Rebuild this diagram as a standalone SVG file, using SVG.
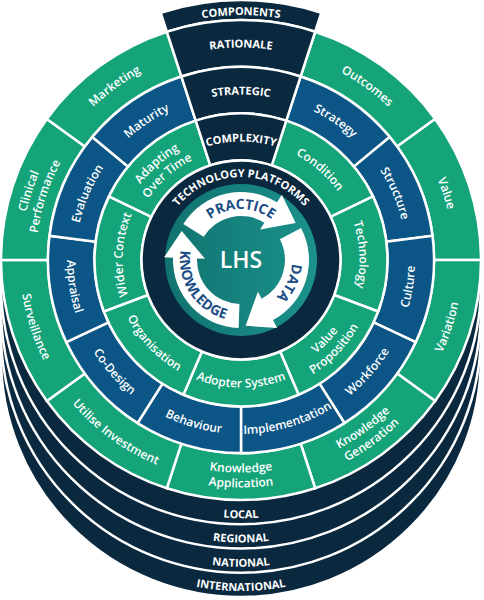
<svg xmlns="http://www.w3.org/2000/svg" width="484" height="600" viewBox="0 0 484 600">
<defs>
<linearGradient id="tealGrad" x1="0" y1="0" x2="1" y2="0">
<stop offset="0" stop-color="#117370"/>
<stop offset="1" stop-color="#1b928b"/>
</linearGradient>
<path id="segO" d="M166.836,31.746 A240,240 0 0 1 315.164,31.746 L300.640,76.446 A193,193 0 0 0 181.360,76.446 Z"/>
<path id="segB" d="M187.155,74.662 A193,193 0 0 1 294.845,74.662 L281.872,119.316 A146.5,146.5 0 0 0 200.128,119.316 Z"/>
<path id="segI" d="M183.422,125.289 A146.5,146.5 0 0 1 298.578,125.289 L280.106,168.507 A99.5,99.5 0 0 0 201.894,168.507 Z"/>
<path id="arrow" d="M183.333,223.965 A68,68 0 0 1 277.035,202.333 L281.804,194.700 L295.717,223.093 L260.077,229.470 L264.316,222.686 A44,44 0 0 0 203.686,236.684 Z"/>
<path id="p_t245" d="M-4,260 A245,245 0 0 1 486,260"/>
<path id="p_t212" d="M28.5,260 A212.5,212.5 0 0 1 453.5,260"/>
<path id="p_b221" d="M19.5,260 A221.5,221.5 0 0 0 462.5,260"/>
<path id="p_t220" d="M21,260 A220,220 0 0 1 461,260"/>
<path id="p_t205" d="M36,260 A205,205 0 0 1 446,260"/>
<path id="p_b212" d="M28.5,260 A212.5,212.5 0 0 0 453.5,260"/>
<path id="p_b227" d="M13.5,260 A227.5,227.5 0 0 0 468.5,260"/>
<path id="p_t165" d="M75.5,260 A165.5,165.5 0 0 1 406.5,260"/>
<path id="p_b174" d="M67,260 A174,174 0 0 0 415,260"/>
<path id="p_t118" d="M122.5,260 A118.5,118.5 0 0 1 359.5,260"/>
<path id="p_b127" d="M113.5,260 A127.5,127.5 0 0 0 368.5,260"/>
<path id="p_t126" d="M115,260 A126,126 0 0 1 367,260"/>
<path id="p_t111" d="M130,260 A111,111 0 0 1 352,260"/>
<path id="p_b120" d="M121,260 A120,120 0 0 0 361,260"/>
<path id="p_b135" d="M106,260 A135,135 0 0 0 376,260"/>
<path id="p_t83" d="M158,260 A83,83 0 0 1 324,260"/>
<path id="p_t51" d="M190,260 A51,51 0 0 1 292,260"/>
<path id="p_b61" d="M180,260 A61,61 0 0 0 302,260"/>
<path id="p_bL" d="M7,260 A234,234 0 0 0 475,260"/>
</defs>
<style>
.g{fill:#15a479;stroke:#fff;stroke-width:2.5}
.b{fill:#0c5687;stroke:#fff;stroke-width:2.5}
.n{fill:#0a283e;stroke:#fff;stroke-width:2.5}
.t{font-family:"Open Sans","Liberation Sans",sans-serif;font-size:12px;font-weight:600;fill:#fff;text-anchor:middle}
.c{font-family:"Open Sans","Liberation Sans",sans-serif;font-size:11px;font-weight:700;fill:#fff;text-anchor:middle}
.a{font-family:"Open Sans","Liberation Sans",sans-serif;font-size:14px;font-weight:700;fill:#1a4c85;text-anchor:middle}
.arr{fill:#fff}
</style>
<rect width="484" height="600" fill="#fff"/>

<g id="international"><circle class="n" cx="241" cy="357" r="240"/><text class="c" transform="translate(0,97)"><textPath href="#p_bL" startOffset="50%">INTERNATIONAL</textPath></text></g>
<g id="national"><circle class="n" cx="241" cy="332.75" r="240"/><text class="c" transform="translate(0,72.75)"><textPath href="#p_bL" startOffset="50%">NATIONAL</textPath></text></g>
<g id="regional"><circle class="n" cx="241" cy="308.5" r="240"/><text class="c" transform="translate(0,48.5)"><textPath href="#p_bL" startOffset="50%">REGIONAL</textPath></text></g>
<g id="local"><circle class="n" cx="241" cy="284.25" r="240"/><text class="c" transform="translate(0,24.25)"><textPath href="#p_bL" startOffset="50%">LOCAL</textPath></text></g>

<g id="outcomes"><use href="#segO" class="g" transform="rotate(36 241 260)"/><text class="t" transform="rotate(36 241 260)"><textPath href="#p_t212" startOffset="50%">Outcomes</textPath></text></g>
<g id="value"><use href="#segO" class="g" transform="rotate(72 241 260)"/><text class="t" transform="rotate(72 241 260)"><textPath href="#p_t212" startOffset="50%">Value</textPath></text></g>
<g id="variation"><use href="#segO" class="g" transform="rotate(108 241 260)"/><text class="t" transform="rotate(-72 241 260)"><textPath href="#p_b221" startOffset="50%">Variation</textPath></text></g>
<g id="knowledge-generation"><use href="#segO" class="g" transform="rotate(144 241 260)"/><text class="t" transform="rotate(-36 241 260)"><textPath href="#p_b212" startOffset="50%">Knowledge</textPath></text><text class="t" transform="rotate(-36 241 260)"><textPath href="#p_b227" startOffset="50%">Generation</textPath></text></g>
<g id="knowledge-application"><use href="#segO" class="g" transform="rotate(180 241 260)"/><text class="t"><textPath href="#p_b212" startOffset="50%">Knowledge</textPath></text><text class="t"><textPath href="#p_b227" startOffset="50%">Application</textPath></text></g>
<g id="utilise-investment"><use href="#segO" class="g" transform="rotate(216 241 260)"/><text class="t" transform="rotate(36 241 260)"><textPath href="#p_b221" startOffset="50%">Utilise Investment</textPath></text></g>
<g id="surveillance"><use href="#segO" class="g" transform="rotate(252 241 260)"/><text class="t" transform="rotate(72 241 260)"><textPath href="#p_b221" startOffset="50%">Surveillance</textPath></text></g>
<g id="clinical-performance"><use href="#segO" class="g" transform="rotate(288 241 260)"/><text class="t" transform="rotate(-72 241 260)"><textPath href="#p_t220" startOffset="50%">Clinical</textPath></text><text class="t" transform="rotate(-72 241 260)"><textPath href="#p_t205" startOffset="50%">Performance</textPath></text></g>
<g id="marketing"><use href="#segO" class="g" transform="rotate(324 241 260)"/><text class="t" transform="rotate(-36 241 260)"><textPath href="#p_t212" startOffset="50%">Marketing</textPath></text></g>

<g id="strategy"><use href="#segB" class="b" transform="rotate(34.2 241 260)"/><text class="t" transform="rotate(34.2 241 260)"><textPath href="#p_t165" startOffset="50%">Strategy</textPath></text></g>
<g id="structure"><use href="#segB" class="b" transform="rotate(66.6 241 260)"/><text class="t" transform="rotate(66.6 241 260)"><textPath href="#p_t165" startOffset="50%">Structure</textPath></text></g>
<g id="culture"><use href="#segB" class="b" transform="rotate(99 241 260)"/><text class="t" transform="rotate(-81 241 260)"><textPath href="#p_b174" startOffset="50%">Culture</textPath></text></g>
<g id="workforce"><use href="#segB" class="b" transform="rotate(131.4 241 260)"/><text class="t" transform="rotate(-48.6 241 260)"><textPath href="#p_b174" startOffset="50%">Workforce</textPath></text></g>
<g id="implementation"><use href="#segB" class="b" transform="rotate(163.8 241 260)"/><text class="t" transform="rotate(-16.2 241 260)"><textPath href="#p_b174" startOffset="50%">Implementation</textPath></text></g>
<g id="behaviour"><use href="#segB" class="b" transform="rotate(196.2 241 260)"/><text class="t" transform="rotate(16.2 241 260)"><textPath href="#p_b174" startOffset="50%">Behaviour</textPath></text></g>
<g id="co-design"><use href="#segB" class="b" transform="rotate(228.6 241 260)"/><text class="t" transform="rotate(48.6 241 260)"><textPath href="#p_b174" startOffset="50%">Co-Design</textPath></text></g>
<g id="appraisal"><use href="#segB" class="b" transform="rotate(261 241 260)"/><text class="t" transform="rotate(81 241 260)"><textPath href="#p_b174" startOffset="50%">Appraisal</textPath></text></g>
<g id="evaluation"><use href="#segB" class="b" transform="rotate(293.4 241 260)"/><text class="t" transform="rotate(-66.6 241 260)"><textPath href="#p_t165" startOffset="50%">Evaluation</textPath></text></g>
<g id="maturity"><use href="#segB" class="b" transform="rotate(325.8 241 260)"/><text class="t" transform="rotate(-34.2 241 260)"><textPath href="#p_t165" startOffset="50%">Maturity</textPath></text></g>

<g id="condition"><use href="#segI" class="g" transform="rotate(41.143 241 260)"/><text class="t" transform="rotate(41.143 241 260)"><textPath href="#p_t118" startOffset="50%">Condition</textPath></text></g>
<g id="technology"><use href="#segI" class="g" transform="rotate(87.429 241 260)"/><text class="t" transform="rotate(87.429 241 260)"><textPath href="#p_t118" startOffset="50%">Technology</textPath></text></g>
<g id="value-proposition"><use href="#segI" class="g" transform="rotate(133.714 241 260)"/><text class="t" transform="rotate(-46.286 241 260)"><textPath href="#p_b120" startOffset="50%">Value</textPath></text><text class="t" transform="rotate(-46.286 241 260)"><textPath href="#p_b135" startOffset="50%">Proposition</textPath></text></g>
<g id="adopter-system"><use href="#segI" class="g" transform="rotate(180 241 260)"/><text class="t"><textPath href="#p_b127" startOffset="50%">Adopter System</textPath></text></g>
<g id="organisation"><use href="#segI" class="g" transform="rotate(226.286 241 260)"/><text class="t" transform="rotate(46.286 241 260)"><textPath href="#p_b127" startOffset="50%">Organisation</textPath></text></g>
<g id="wider-context"><use href="#segI" class="g" transform="rotate(272.571 241 260)"/><text class="t" transform="rotate(-87.429 241 260)"><textPath href="#p_t118" startOffset="50%">Wider Context</textPath></text></g>
<g id="adapting-over-time"><use href="#segI" class="g" transform="rotate(318.857 241 260)"/><text class="t" transform="rotate(-41.143 241 260)"><textPath href="#p_t126" startOffset="50%">Adapting</textPath></text><text class="t" transform="rotate(-41.143 241 260)"><textPath href="#p_t111" startOffset="50%">Over Time</textPath></text></g>

<g id="components"><path class="n" d="M160.656,12.725 A260,260 0 0 1 321.344,12.725 L315.164,31.746 A240,240 0 0 0 166.836,31.746 Z"/><text class="c"><textPath href="#p_t245" startOffset="50%">COMPONENTS</textPath></text></g>
<g id="rationale"><path class="n" d="M166.836,31.746 A240,240 0 0 1 315.164,31.746 L300.640,76.446 A193,193 0 0 0 181.360,76.446 Z"/><text class="c"><textPath href="#p_t212" startOffset="50%">RATIONALE</textPath></text></g>
<g id="strategic"><path class="n" d="M181.360,76.446 A193,193 0 0 1 300.640,76.446 L286.271,120.670 A146.5,146.5 0 0 0 195.729,120.670 Z"/><text class="c"><textPath href="#p_t165" startOffset="50%">STRATEGIC</textPath></text></g>
<g id="complexity"><path class="n" d="M195.729,120.670 A146.5,146.5 0 0 1 286.271,120.670 L271.747,165.370 A99.5,99.5 0 0 0 210.253,165.370 Z"/><text class="c"><textPath href="#p_t118" startOffset="50%">COMPLEXITY</textPath></text></g>

<g id="technology-platforms"><circle class="n" cx="241" cy="260" r="99.5"/><text class="c"><textPath href="#p_t83" startOffset="50%">TECHNOLOGY PLATFORMS</textPath></text></g>

<g id="lhs"><circle cx="241" cy="260" r="76" fill="url(#tealGrad)"/><text x="241" y="268" font-family="'Open Sans','Liberation Sans',sans-serif" font-size="23" font-weight="600" fill="#fff" text-anchor="middle">LHS</text></g>

<g id="connectors">
<g id="practice"><use href="#arrow" class="arr"/><text class="a"><textPath href="#p_t51" startOffset="50%">PRACTICE</textPath></text></g>
<g id="data"><use href="#arrow" class="arr" transform="rotate(120 241 260)"/><text class="a" transform="rotate(115 241 260)"><textPath href="#p_t51" startOffset="50%">DATA</textPath></text></g>
<g id="knowledge"><use href="#arrow" class="arr" transform="rotate(240 241 260)"/><text class="a" transform="rotate(57 241 260)"><textPath href="#p_b61" startOffset="50%">KNOWLEDGE</textPath></text></g>
</g>
</svg>
